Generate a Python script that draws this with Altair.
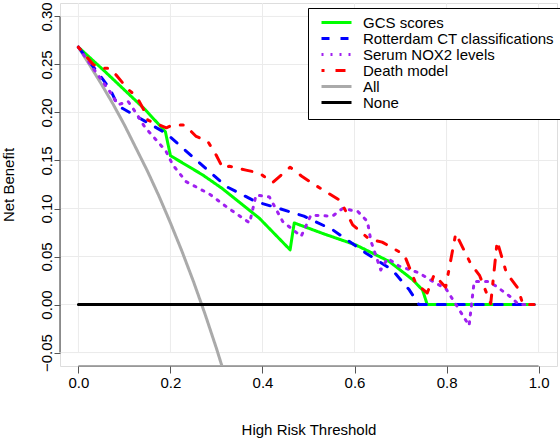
import altair as alt
import pandas as pd

# ---------------- data ----------------
SERIES = ["GCS scores", "Rotterdam CT classifications", "Serum NOX2 levels",
          "Death model", "All", "None"]
COLORS = ["#00FF00", "#0000FF", "#A020F0", "#FF0000", "#AAAAAA", "#000000"]
DASHES = [[1, 0], [8, 11], [2, 7], [3, 11, 10, 11], [1, 0], [1, 0]]

gcs_t = [0, 0.057, 0.145, 0.189, 0.200, 0.27, 0.312, 0.393, 0.46, 0.469,
         0.531, 0.603, 0.675, 0.726, 0.748, 0.758, 0.99]
gcs_nb = [0.268, 0.243, 0.203, 0.180, 0.155, 0.135, 0.121, 0.090, 0.057, 0.085,
          0.074, 0.062, 0.045, 0.026, 0.015, 0.0, 0.0]

rot_t = [0, 0.068, 0.086, 0.19, 0.321, 0.386, 0.43, 0.49, 0.552, 0.625,
         0.682, 0.719, 0.740, 0.99]
rot_nb = [0.268, 0.225, 0.207, 0.1785, 0.123, 0.107, 0.101, 0.092, 0.078, 0.0535,
          0.036, 0.0153, 0.0, 0.0]

nox_t = [0, 0.032, 0.068, 0.086, 0.108, 0.126, 0.144, 0.19, 0.205, 0.234,
         0.285, 0.321, 0.372, 0.386, 0.415, 0.444, 0.484, 0.505, 0.552, 0.574,
         0.607, 0.628, 0.636, 0.657, 0.672, 0.697, 0.740, 0.777, 0.798, 0.827,
         0.849, 0.86, 0.889, 0.905, 0.939, 0.957, 0.99]
nox_nb = [0.268, 0.246, 0.222, 0.208, 0.2115, 0.199, 0.185, 0.160, 0.1455, 0.128,
          0.115, 0.102, 0.085, 0.114, 0.112, 0.0865, 0.071, 0.093, 0.092, 0.100,
          0.097, 0.0865, 0.0656, 0.036, 0.048, 0.040, 0.033, 0.022, 0.017, -0.005,
          -0.022, 0.024, 0.024, 0.020, 0.008, 0.0, 0.0]

death_t = [0, 0.032, 0.050, 0.068, 0.082, 0.108, 0.126, 0.144, 0.151, 0.191,
           0.205, 0.231, 0.256, 0.281, 0.299, 0.314, 0.328, 0.364, 0.393, 0.422,
           0.460, 0.487, 0.516, 0.570, 0.578, 0.596, 0.632, 0.660, 0.708, 0.733,
           0.758, 0.773, 0.798, 0.820, 0.852, 0.872, 0.896, 0.910, 0.930, 0.955,
           0.966, 0.99]
death_nb = [0.268, 0.250, 0.246, 0.246, 0.239, 0.224, 0.217, 0.201, 0.192, 0.184,
            0.187, 0.187, 0.175, 0.170, 0.156, 0.142, 0.144, 0.140, 0.137, 0.127,
            0.143, 0.133, 0.124, 0.108, 0.100, 0.083, 0.068, 0.065, 0.052, 0.022,
            0.012, 0.031, 0.018, 0.074, 0.043, 0.030, 0.001, 0.066, 0.033, 0.017,
            0.0, 0.0]

all_t = [0, 0.025, 0.05, 0.075, 0.1, 0.125, 0.15, 0.175, 0.2, 0.225, 0.25,
         0.275, 0.3, 0.32]
all_nb = [0.268, 0.249, 0.2295, 0.209, 0.187, 0.163, 0.139, 0.113, 0.085, 0.0555,
          0.024, -0.0097, -0.0457, -0.0765]

none_t = [0, 0.99]
none_nb = [0.0, 0.0]

X_TICKS = [0.0, 0.2, 0.4, 0.6, 0.8, 1.0]
Y_TICKS = [-0.05, 0.0, 0.05, 0.10, 0.15, 0.20, 0.25, 0.30]
X_DOMAIN = [-0.04, 1.04]
Y_DOMAIN = [-0.064, 0.314]

# ---------------- build table ----------------
parts = []
for name, t, nb in [("GCS scores", gcs_t, gcs_nb),
                    ("Rotterdam CT classifications", rot_t, rot_nb),
                    ("Serum NOX2 levels", nox_t, nox_nb),
                    ("Death model", death_t, death_nb),
                    ("All", all_t, all_nb),
                    ("None", none_t, none_nb)]:
    parts.append(pd.DataFrame({"series": name, "t": t, "nb": nb}))
df = pd.concat(parts, ignore_index=True)

FONT = "Liberation Sans"
AXIS_COLOR = "#555555"

xscale = alt.Scale(domain=X_DOMAIN, nice=False, zero=False)
yscale = alt.Scale(domain=Y_DOMAIN, nice=False, zero=False)

xaxis = alt.Axis(values=X_TICKS, format=".1f", domain=False, grid=False,
                 tickSize=7, tickColor=AXIS_COLOR, tickWidth=1,
                 labelFontSize=15, labelFont=FONT, labelColor="black",
                 labelPadding=2, labelFlush=False,
                 title="High Risk Threshold", titleFont=FONT, titleFontSize=15,
                 titleFontWeight="normal", titleColor="black", titlePadding=32)
yaxis = alt.Axis(values=Y_TICKS, format=".2f", domain=False, grid=False,
                 tickSize=6, tickColor=AXIS_COLOR, tickWidth=1,
                 labelFontSize=15, labelFont=FONT, labelColor="black",
                 labelAngle=270, labelAlign="center", labelBaseline="bottom",
                 labelPadding=0, labelFlush=False,
                 title="Net Benefit", titleFont=FONT, titleFontSize=15,
                 titleFontWeight="normal", titleColor="black", titlePadding=23)

X = alt.X("t:Q", scale=xscale, axis=xaxis)
Y = alt.Y("nb:Q", scale=yscale, axis=yaxis)

legend = alt.Legend(title=None, orient="none", legendX=248, legendY=5,
                    symbolType="stroke", symbolSize=900, symbolStrokeWidth=3,
                    labelFontSize=15, labelFont=FONT, labelColor="black",
                    labelOffset=10, labelLimit=0, padding=8, symbolOffset=4,
                    clipHeight=13, rowPadding=0,
                    strokeColor="black", fillColor="white")

color = alt.Color("series:N", scale=alt.Scale(domain=SERIES, range=COLORS), legend=legend)
dash = alt.StrokeDash("series:N", scale=alt.Scale(domain=SERIES, range=DASHES), legend=legend)

# gridlines
gv = pd.DataFrame({"t": X_TICKS, "y0": Y_TICKS[0], "y1": Y_DOMAIN[1]})
gh = pd.DataFrame({"nb": Y_TICKS, "x0": X_DOMAIN[0], "x1": X_DOMAIN[1]})
grid_v = alt.Chart(gv).mark_rule(color="#EBEBEB", strokeWidth=1).encode(
    x=X, y=alt.Y("y0:Q", scale=yscale, axis=yaxis), y2="y1:Q")
grid_h = alt.Chart(gh).mark_rule(color="#EBEBEB", strokeWidth=1).encode(
    y=Y, x=alt.X("x0:Q", scale=xscale, axis=xaxis), x2="x1:Q")

# axis lines (R style: spanning only the tick range)
ax_x = alt.Chart(pd.DataFrame({"t": [X_TICKS[0]], "t2": [X_TICKS[-1]], "nb": [Y_DOMAIN[0]]})
                 ).mark_rule(color=AXIS_COLOR, strokeWidth=1.2).encode(x=X, x2="t2:Q", y=Y)
ax_y = alt.Chart(pd.DataFrame({"t": [X_DOMAIN[0]], "nb": [Y_TICKS[0]], "nb2": [Y_TICKS[-1]]})
                 ).mark_rule(color=AXIS_COLOR, strokeWidth=1.2).encode(x=X, y=Y, y2="nb2:Q")

layers = [grid_v, grid_h, ax_x, ax_y]
for s in ["All", "None", "GCS scores", "Rotterdam CT classifications",
          "Serum NOX2 levels", "Death model"]:
    layers.append(
        alt.Chart(df[df["series"] == s]).mark_line(strokeWidth=3, clip=True, strokeCap="round",
                                                  strokeJoin="round")
        .encode(x=X, y=Y, color=color, strokeDash=dash)
    )

chart = alt.layer(*layers).properties(
    width=497, height=363,
    padding={"left": 60, "top": 3, "right": 3, "bottom": 74},
    autosize=alt.AutoSizeParams(type="none"),
    background="white",
).configure_view(stroke=None).configure(font=FONT)

chart.save("out.html", embed_options={"renderer": "svg", "actions": False})
